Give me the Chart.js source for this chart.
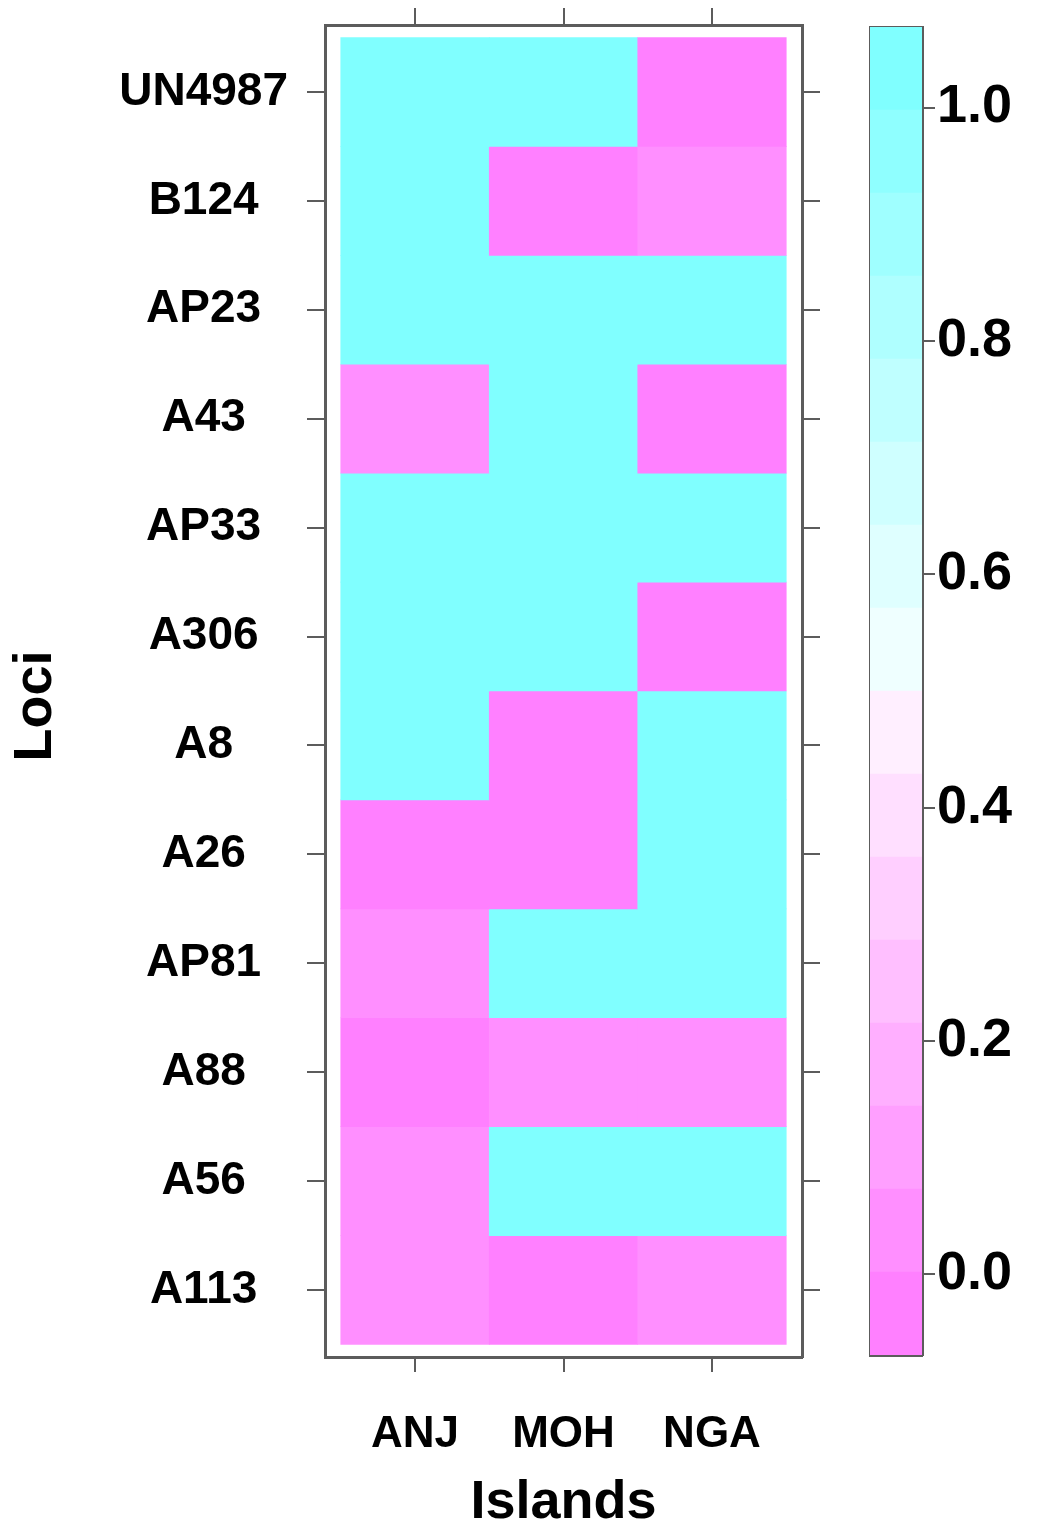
<!DOCTYPE html>
<html>
<head>
<meta charset="utf-8">
<script src="https://cdn.jsdelivr.net/npm/chart.js@4.4.0/dist/chart.umd.min.js"></script>
<style>
  html, body { margin: 0; padding: 0; background: #fff; }
  #main { position: absolute; left: 0; top: 0; width: 860px; height: 1536px; }
  #key { position: absolute; left: 860px; top: 0; width: 179px; height: 1536px; }
</style>
</head>
<body>
<div id="main"><canvas id="heat"></canvas></div>
<div id="key"><canvas id="colorKey"></canvas></div>
<script>
// rows, top to bottom
var loci = ["UN4987", "B124", "AP23", "A43", "AP33", "A306", "A8", "A26", "AP81", "A88", "A56", "A113"];
var islands = ["ANJ", "MOH", "NGA"];

// one value per locus, same order as loci
var anj = [1, 1, 1, 0.05, 1, 1, 1, 0, 0.05, 0, 0.05, 0.05];
var moh = [1, 0, 1, 1, 1, 1, 0, 0, 1, 0.05, 1, 0];
var nga = [0, 0.05, 1, 0, 1, 0, 1, 1, 1, 0.05, 1, 0.05];

var keyTicks = [0, 0.2, 0.4, 0.6, 0.8, 1.0];
var keyRange = [-0.069, 1.069];
var nCuts = 16;

var grey = '#5c5c5c';
var fontFamily = '"Liberation Sans", Arial, sans-serif';

// rev(cm.colors(16)): magenta -> white -> cyan
var palette = [];
for (var i = 0; i < nCuts / 2; i++) {
  var c = Math.round(255 * (1 - (0.5 - i * 0.0625)));
  palette.push('rgb(255,' + c + ',255)');
}
for (var i = 0; i < nCuts / 2; i++) {
  var c = Math.round(255 * (1 - (0.0625 + i * 0.0625)));
  palette.push('rgb(' + c + ',255,255)');
}
var step = (keyRange[1] - keyRange[0]) / nCuts;
function colorOf(v) {
  var k = Math.floor((v - keyRange[0]) / step);
  return palette[Math.max(0, Math.min(nCuts - 1, k))];
}

function fixedTicks(values) {
  return function (scale) {
    scale.ticks = values.map(function (v) { return { value: v }; });
  };
}
function noPad(s) {
  s.paddingTop = 0; s.paddingBottom = 0; s.paddingLeft = 0; s.paddingRight = 0;
}

var columns = [anj, moh, nga];
var colPos = [1, 2, 3];
var rowPos = loci.map(function (n, i) { return loci.length - i; });

var rowSets = loci.map(function (name, i) {
  return {
    label: name,
    xAxisID: 'x',
    yAxisID: 'y',
    data: columns.map(function (col, j) {
      return { x: colPos[j], y: [rowPos[i] - 0.5, rowPos[i] + 0.5] };
    }),
    backgroundColor: columns.map(function (col) { return colorOf(col[i]); }),
    grouped: false,
    barPercentage: 1,
    categoryPercentage: 1,
    borderWidth: 0
  };
});

var xMin = 0.394, xMax = 3.606;
var yMin = 0.385, yMax = 12.615;

var heat = new Chart(document.getElementById('heat'), {
  type: 'bar',
  data: { datasets: rowSets },
  options: {
    responsive: true,
    maintainAspectRatio: false,
    animation: false,
    plugins: { legend: { display: false }, tooltip: { enabled: false } },
    layout: { padding: 0 },
    scales: {
      x: {
        type: 'linear', position: 'bottom', min: xMin, max: xMax, offset: false,
        afterBuildTicks: fixedTicks(colPos),
        afterFit: function (s) { s.height = 179; noPad(s); },
        ticks: {
          callback: function (v) { return islands[v - 1]; },
          font: { family: fontFamily, size: 44, weight: 'bold' },
          color: '#000', padding: 36, maxRotation: 0
        },
        grid: { drawOnChartArea: false, drawTicks: true, tickLength: 15, color: grey, lineWidth: 2, offset: false },
        border: { display: true, color: grey, width: 3 },
        title: { display: true, text: 'Islands', color: '#000', padding: { top: 4, bottom: 0 },
                 font: { family: fontFamily, size: 54, weight: 'bold' } }
      },
      x2: {
        type: 'linear', position: 'top', min: xMin, max: xMax, offset: false,
        afterBuildTicks: fixedTicks(colPos),
        afterFit: function (s) { s.height = 25; noPad(s); },
        ticks: { display: false },
        grid: { drawOnChartArea: false, drawTicks: true, tickLength: 17, color: grey, lineWidth: 2, offset: false },
        border: { display: true, color: grey, width: 3 }
      },
      y: {
        type: 'linear', position: 'left', min: yMin, max: yMax,
        afterBuildTicks: fixedTicks(rowPos),
        afterFit: function (s) { s.width = 325; noPad(s); },
        ticks: {
          callback: function (v) { return loci[loci.length - v]; },
          font: { family: fontFamily, size: 46, weight: 'bold' },
          color: '#000', padding: 19, crossAlign: 'center'
        },
        grid: { drawOnChartArea: false, drawTicks: true, tickLength: 18, color: grey, lineWidth: 2 },
        border: { display: true, color: grey, width: 3 },
        title: { display: true, text: 'Loci  ', color: '#000', font: { family: fontFamily, size: 54, weight: 'bold' } }
      },
      y2: {
        type: 'linear', position: 'right', min: yMin, max: yMax,
        afterBuildTicks: fixedTicks(rowPos),
        afterFit: function (s) { s.width = 58; noPad(s); },
        ticks: { display: false },
        grid: { drawOnChartArea: false, drawTicks: true, tickLength: 18, color: grey, lineWidth: 2 },
        border: { display: true, color: grey, width: 3 }
      }
    }
  }
});

// colour key
var keySets = palette.map(function (col, k) {
  return {
    xAxisID: 'x',
    yAxisID: 'y',
    data: [[keyRange[0] + k * step, keyRange[0] + (k + 1) * step]],
    backgroundColor: col,
    grouped: false,
    barPercentage: 1,
    categoryPercentage: 1,
    borderWidth: 0
  };
});

var colorKey = new Chart(document.getElementById('colorKey'), {
  type: 'bar',
  data: { labels: [''], datasets: keySets },
  options: {
    responsive: true,
    maintainAspectRatio: false,
    animation: false,
    plugins: { legend: { display: false }, tooltip: { enabled: false } },
    layout: { padding: { left: 10, top: 27, bottom: 181, right: 0 } },
    scales: {
      x: {
        position: 'bottom',
        afterFit: function (s) { s.height = 0; noPad(s); },
        ticks: { display: false },
        grid: { display: false },
        border: { display: true, color: grey, width: 3 }
      },
      xTop: {
        type: 'linear', position: 'top',
        afterFit: function (s) { s.height = 0; noPad(s); },
        ticks: { display: false },
        grid: { display: false },
        border: { display: true, color: grey, width: 3 }
      },
      y: {
        type: 'linear', position: 'right', min: keyRange[0], max: keyRange[1],
        afterBuildTicks: fixedTicks(keyTicks),
        afterFit: function (s) { s.width = 117; noPad(s); },
        ticks: {
          callback: function (v) { return v.toFixed(1); },
          font: { family: fontFamily, size: 54, weight: 'bold' },
          color: '#000', padding: 2
        },
        grid: { drawOnChartArea: false, drawTicks: true, tickLength: 13, color: grey, lineWidth: 2 },
        border: { display: true, color: grey, width: 3 }
      },
      yLeft: {
        type: 'linear', position: 'left',
        afterFit: function (s) { s.width = 0; noPad(s); },
        ticks: { display: false },
        grid: { display: false },
        border: { display: true, color: grey, width: 3 }
      }
    }
  }
});
</script>
</body>
</html>
